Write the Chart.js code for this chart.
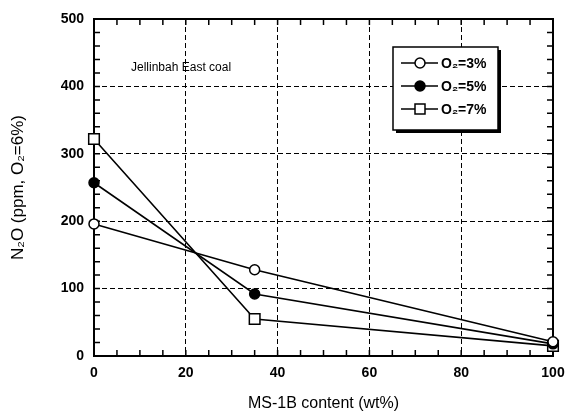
<!DOCTYPE html>
<html>
<head>
<meta charset="utf-8">
<script src="https://cdn.jsdelivr.net/npm/chart.js@4.4.0/dist/chart.umd.min.js"></script>
<style>
  html, body { margin: 0; padding: 0; background: #fff; }
  #wrap { width: 566px; height: 417px; }
</style>
</head>
<body>
<div id="wrap"><canvas id="n2o_chart" width="566" height="417"></canvas></div>
<script>
// MS-1B content (wt%)
const ms_content = [0, 35, 100]
const o2_3 = [196, 128, 21]
const o2_5 = [257, 92, 18]
const o2_7 = [322, 55, 15]
const series_labels = ['O\u2082=3%', 'O\u2082=5%', 'O\u2082=7%']
const note_text = 'Jellinbah East coal'

const font_family = '"Liberation Sans", Arial, Helvetica, sans-serif'

function toPoints(vals) {
    return ms_content.map((x, i) => ({x: x, y: vals[i]}))
}

// inward minor ticks + thick frame, under the lines
const frame_plugin = {
    id: 'frame',
    beforeDatasetsDraw(chart) {
        const ctx = chart.ctx
        const a = chart.chartArea
        const xs = chart.scales.x
        const ys = chart.scales.y
        ctx.save()
        ctx.strokeStyle = '#000'
        ctx.lineWidth = 1.5
        ctx.beginPath()
        for (let v = 0; v <= 500; v += 20) {
            const py = ys.getPixelForValue(v)
            ctx.moveTo(a.left, py); ctx.lineTo(a.left + 6, py)
            ctx.moveTo(a.right, py); ctx.lineTo(a.right - 6, py)
        }
        for (let v = 0; v <= 100; v += 5) {
            const px = xs.getPixelForValue(v)
            ctx.moveTo(px, a.bottom); ctx.lineTo(px, a.bottom - 6)
            ctx.moveTo(px, a.top); ctx.lineTo(px, a.top + 6)
        }
        ctx.stroke()
        ctx.lineWidth = 2
        ctx.strokeRect(a.left, a.top, a.right - a.left, a.bottom - a.top)

        // annotation
        ctx.fillStyle = '#000'
        ctx.font = '12px ' + font_family
        ctx.textBaseline = 'middle'
        ctx.textAlign = 'left'
        ctx.fillText(note_text, 131, 68)
        ctx.restore()
    }
}

// legend box with drop shadow
const legend_plugin = {
    id: 'boxLegend',
    afterDraw(chart) {
        const ctx = chart.ctx
        const bx = 393, by = 47, bw = 105, bh = 83
        ctx.save()
        ctx.fillStyle = '#000'
        ctx.fillRect(bx + 3, by + 3, bw, bh)
        ctx.fillStyle = '#fff'
        ctx.fillRect(bx, by, bw, bh)
        ctx.strokeStyle = '#000'
        ctx.lineWidth = 1.5
        ctx.strokeRect(bx, by, bw, bh)
        const rows = [63, 86, 109]
        chart.data.datasets.forEach((ds, i) => {
            const y = rows[i]
            ctx.lineWidth = 1.5
            ctx.beginPath()
            ctx.moveTo(401, y); ctx.lineTo(438, y)
            ctx.stroke()
            ctx.fillStyle = ds.pointBackgroundColor
            ctx.beginPath()
            if (ds.pointStyle === 'rect') {
                ctx.rect(415, y - 5, 10, 10)
            } else {
                ctx.arc(420, y, 5, 0, Math.PI * 2)
            }
            ctx.fill(); ctx.stroke()
            ctx.fillStyle = '#000'
            ctx.font = 'bold 14px ' + font_family
            ctx.textBaseline = 'middle'
            ctx.textAlign = 'left'
            ctx.fillText(ds.label, 441, y + 1)
        })
        ctx.restore()
    }
}

const line_ds = (label, vals, fill, style) => ({
    label: label,
    data: toPoints(vals),
    showLine: true,
    clip: false,
    borderColor: '#000',
    borderWidth: 1.6,
    pointStyle: style,
    pointRadius: style === 'rect' ? 7.5 : 5,
    pointBorderWidth: 1.5,
    pointBorderColor: '#000',
    pointBackgroundColor: fill
})

let n2o_chart = new Chart(document.getElementById('n2o_chart').getContext('2d'), {
    type: 'scatter',
    data: {
        datasets: [
            line_ds(series_labels[0], o2_3, '#fff', 'circle'),
            line_ds(series_labels[1], o2_5, '#000', 'circle'),
            line_ds(series_labels[2], o2_7, '#fff', 'rect')
        ]
    },
    options: {
        responsive: false,
        animation: false,
        layout: {autoPadding: false, padding: {left: 0, right: 13, top: 19, bottom: 0}},
        plugins: {legend: {display: false}, tooltip: {enabled: false}},
        scales: {
            x: {
                type: 'linear', min: 0, max: 100,
                afterFit: s => { s.height = 61; s.paddingLeft = 0; s.paddingRight = 0 },
                ticks: {stepSize: 20, color: '#000', padding: 9,
                        font: {family: font_family, size: 14, weight: 'bold'}},
                grid: {color: '#000', lineWidth: 1, drawTicks: false},
                border: {display: false, dash: [5, 3]},
                title: {display: true, text: 'MS-1B content (wt%)', color: '#000',
                        font: {family: font_family, size: 16}, padding: {top: 10}}
            },
            y: {
                type: 'linear', min: 0, max: 500,
                afterFit: s => { s.width = 94; s.paddingTop = 0; s.paddingBottom = 0 },
                ticks: {stepSize: 100, color: '#000', padding: 10,
                        font: {family: font_family, size: 14, weight: 'bold'}},
                grid: {color: '#000', lineWidth: 1, drawTicks: false},
                border: {display: false, dash: [5, 3]},
                title: {display: true, text: 'N\u2082O (ppm, O\u2082=6%)', color: '#000',
                        font: {family: font_family, size: 17}, padding: {top: 8, bottom: 4}}
            }
        }
    },
    plugins: [frame_plugin, legend_plugin]
})
</script>
</body>
</html>
